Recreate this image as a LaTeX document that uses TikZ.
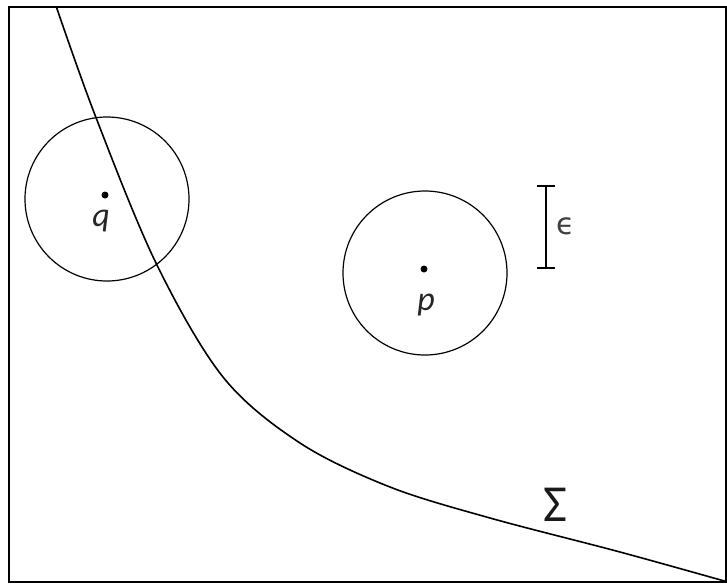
\documentclass[tikz,border=0pt]{standalone}
\usepackage{fontspec}
\setmainfont{Carlito}
\newfontfamily\symfont{DejaVu Sans}
\begin{document}
\begin{tikzpicture}[x=1pt,y=-1pt,
  frame/.style={line width=1.8pt},
  curvestyle/.style={line width=1.6pt},
  ball/.style={circle,draw,line width=1.2pt,minimum size=164pt,inner sep=0pt},
  dotnode/.style={circle,fill,inner sep=0pt,minimum size=7pt},
  lbl/.style={font=\fontsize{34}{34}\selectfont\itshape,text=black!85},
  barstyle/.style={line width=1.5pt}]
\useasboundingbox (0,0) rectangle (727,584);
\draw[frame] (9,7) rectangle (726,582);
\begin{scope}
\clip (9,7) rectangle (726,582);
\draw[curvestyle] plot[smooth,tension=0.55] coordinates {(54,0) (95,115) (156,263) (223,377) (300,443) (390,487) (490,518) (620,552) (735,584)};
\end{scope}
\node[ball] (cq) at (107,199) {};
\node[ball] (cp) at (425,273) {};
\node[dotnode] (q) at (105,195) {};
\node[dotnode] (p) at (424,269) {};
\node[lbl,anchor=north] (ql) at (101,207) {q};
\node[lbl,anchor=north] (pl) at (426,290) {p};
\coordinate (et) at (546,186);
\coordinate (eb) at (546,268);
\draw[barstyle] (et) -- (eb);
\draw[barstyle] ([xshift=-9pt]et) -- ([xshift=9pt]et);
\draw[barstyle] ([xshift=-9pt]eb) -- ([xshift=9pt]eb);
\node[text=black!75,font=\symfont\fontsize{30}{30}\selectfont] (eps) at (566,226) {ϵ};
\node[font=\fontsize{52}{52}\selectfont,text=black!90] (sig) at (555,505) {Σ};
\end{tikzpicture}
\end{document}
